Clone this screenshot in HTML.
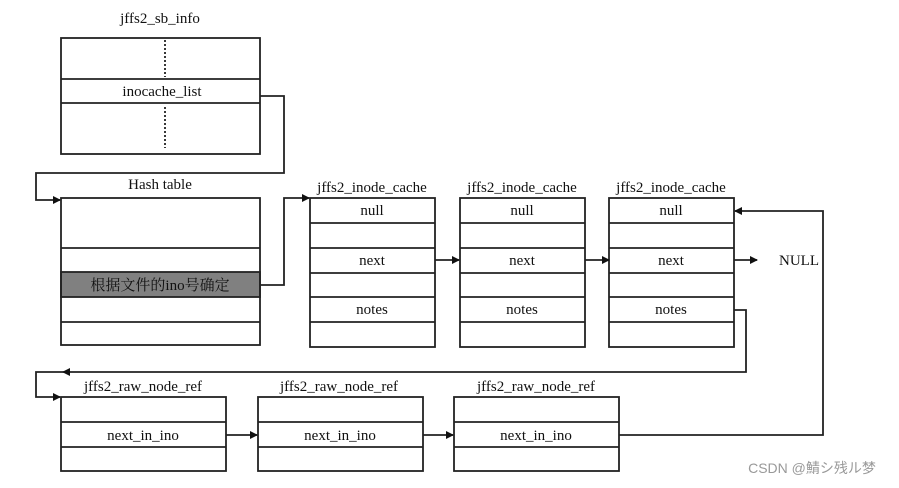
<!DOCTYPE html>
<html><head><meta charset="utf-8"><style>
body{margin:0;background:#fff}
svg{display:block}
text{font-family:"Liberation Serif","Noto Serif CJK SC",serif;font-size:15px;fill:#111;text-anchor:middle}
</style></head><body>
<svg width="899" height="488" viewBox="0 0 899 488" xmlns="http://www.w3.org/2000/svg">
<defs><marker id="a" markerWidth="8" markerHeight="8" refX="7" refY="4" orient="auto" markerUnits="userSpaceOnUse"><path d="M0,0 L8,4 L0,8z" fill="#111"/></marker></defs>
<g stroke="#222" stroke-width="1.8" fill="none">
<rect x="61" y="38" width="199" height="116"/>
<line x1="61" y1="79" x2="260" y2="79"/><line x1="61" y1="103" x2="260" y2="103"/>
<line x1="165" y1="40" x2="165" y2="77" stroke-dasharray="2,2"/>
<line x1="165" y1="107" x2="165" y2="148" stroke-dasharray="2,2"/>
<rect x="61" y="272" width="199" height="25" fill="#808080"/>
<rect x="61" y="198" width="199" height="147"/>
<line x1="61" y1="248" x2="260" y2="248"/><line x1="61" y1="322" x2="260" y2="322"/>
<g id="c">
<rect x="310" y="198" width="125" height="149"/>
<line x1="310" y1="223" x2="435" y2="223"/><line x1="310" y1="248" x2="435" y2="248"/>
<line x1="310" y1="273" x2="435" y2="273"/><line x1="310" y1="297" x2="435" y2="297"/>
<line x1="310" y1="322" x2="435" y2="322"/>
</g>
<use href="#c" x="150"/><use href="#c" x="299"/>
<g id="r">
<rect x="61" y="397" width="165" height="74"/>
<line x1="61" y1="422" x2="226" y2="422"/><line x1="61" y1="447" x2="226" y2="447"/>
</g>
<use href="#r" x="197"/><use href="#r" x="393"/>
<polyline points="260,96 284,96 284,173 36,173 36,200 60,200" marker-end="url(#a)"/>
<polyline points="260,285 284,285 284,198 309,198" marker-end="url(#a)"/>
<line x1="435" y1="260" x2="459" y2="260" marker-end="url(#a)"/>
<line x1="585" y1="260" x2="609" y2="260" marker-end="url(#a)"/>
<line x1="734" y1="260" x2="757" y2="260" marker-end="url(#a)"/>
<polyline points="734,310 746,310 746,372 36,372 36,397 60,397" marker-end="url(#a)"/>
<line x1="226" y1="435" x2="257" y2="435" marker-end="url(#a)"/>
<line x1="423" y1="435" x2="453" y2="435" marker-end="url(#a)"/>
<polyline points="619,435 823,435 823,211 735,211" marker-end="url(#a)"/>
</g>
<path d="M70,368 L62,372 L70,376z" fill="#111"/>
<text x="160" y="23">jffs2_sb_info</text>
<text x="162" y="96">inocache_list</text>
<text x="160" y="189">Hash table</text>
<text x="160" y="290" fill="#222">根据文件的ino号确定</text>
<text x="372" y="192">jffs2_inode_cache</text>
<text x="522" y="192">jffs2_inode_cache</text>
<text x="671" y="192">jffs2_inode_cache</text>
<text x="372" y="215">null</text><text x="372" y="265">next</text><text x="372" y="314">notes</text>
<text x="522" y="215">null</text><text x="522" y="265">next</text><text x="522" y="314">notes</text>
<text x="671" y="215">null</text><text x="671" y="265">next</text><text x="671" y="314">notes</text>
<text x="799" y="265">NULL</text>
<text x="143" y="391">jffs2_raw_node_ref</text>
<text x="339" y="391">jffs2_raw_node_ref</text>
<text x="536" y="391">jffs2_raw_node_ref</text>
<text x="143" y="440">next_in_ino</text>
<text x="340" y="440">next_in_ino</text>
<text x="536" y="440">next_in_ino</text>
<text x="812" y="473" style="font-family:'Liberation Sans','Noto Sans CJK SC',sans-serif;font-size:14px;fill:#999">CSDN @鯖シ残ル梦</text>
</svg>
</body></html>
